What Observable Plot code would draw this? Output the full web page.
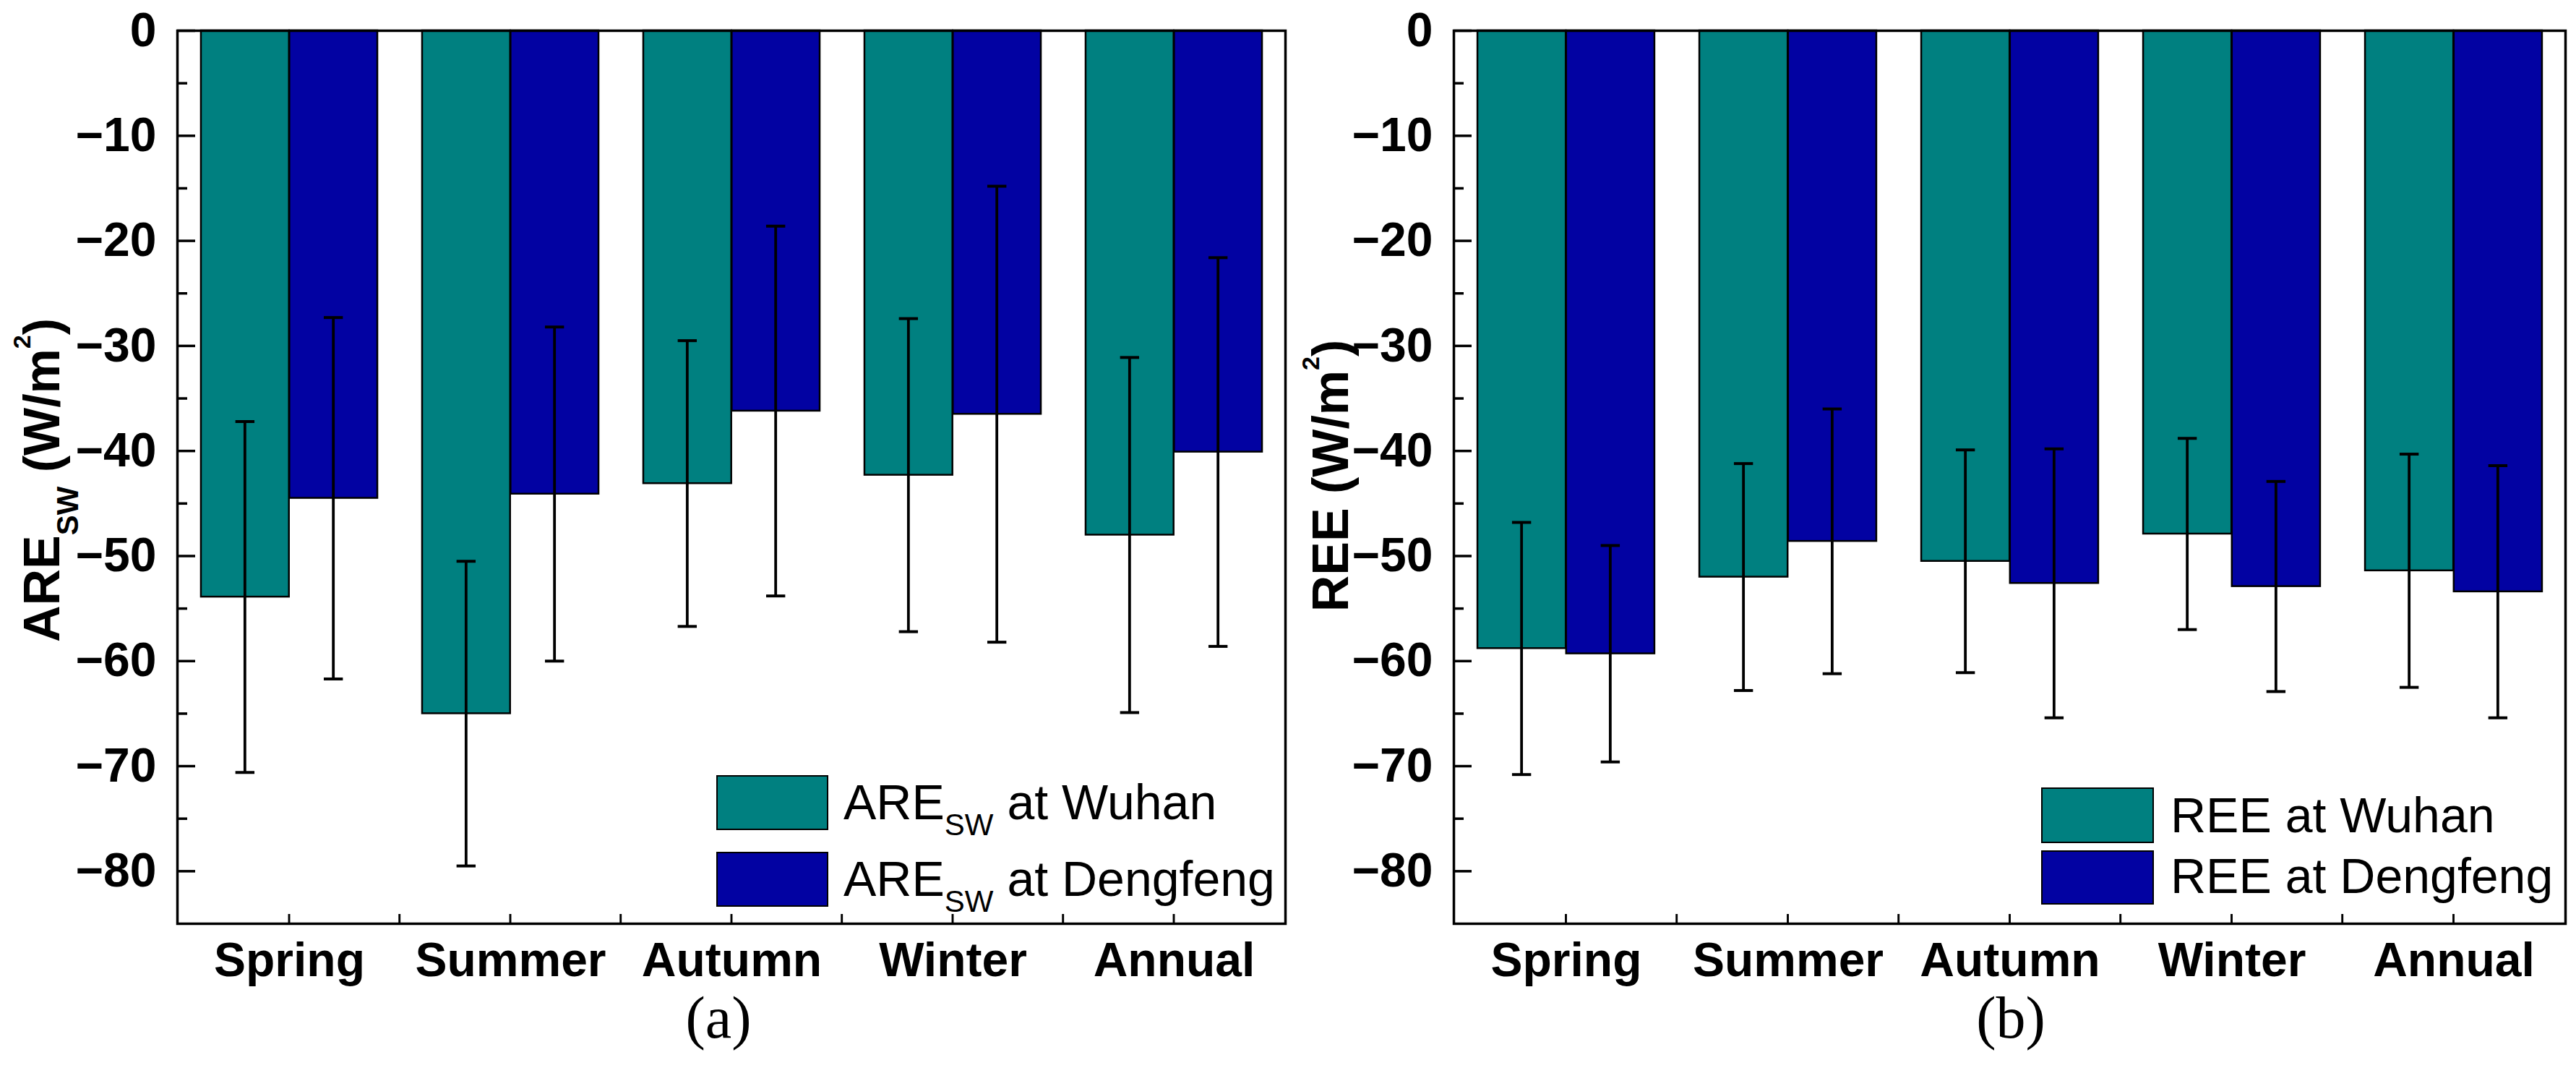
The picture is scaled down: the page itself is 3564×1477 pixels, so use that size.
<!DOCTYPE html>
<html><head><meta charset="utf-8">
<script src="https://cdn.jsdelivr.net/npm/d3@7"></script>
<script src="https://cdn.jsdelivr.net/npm/@observablehq/plot@0.6"></script>
<style>
html,body{margin:0;padding:0;background:#fff;}
#root{position:relative;width:3564px;height:1477px;overflow:hidden;background:#fff;font-family:"Liberation Sans",Arial,sans-serif;color:#000;}
.panel{position:absolute;top:0;}
.swatch{position:absolute;box-sizing:border-box;border:2.5px solid #000;}
.ltext{position:absolute;font-size:68px;line-height:68px;white-space:nowrap;color:#000;}
.ltext sub{font-size:42px;vertical-align:-22px;line-height:0;}
.caption{position:absolute;font-family:"Liberation Serif","Times New Roman",serif;font-size:82px;line-height:64px;text-align:center;width:300px;color:#000;}
</style></head><body><div id="root"></div>
<script>
// ---------- data ----------
const seasons = ["Spring", "Summer", "Autumn", "Winter", "Annual"];
// panel (a): ARE_SW (W/m2), mean and standard deviation
const areWuhanMean = [-53.9, -65.0, -43.1, -42.3, -48.0];
const areWuhanSd   = [16.7, 14.5, 13.6, 14.9, 16.9];
const areDengMean  = [-44.5, -44.1, -36.2, -36.5, -40.1];
const areDengSd    = [17.2, 15.9, 17.6, 21.7, 18.5];
// panel (b): REE (W/m2), mean and standard deviation
const reeWuhanMean = [-58.8, -52.0, -50.5, -47.9, -51.4];
const reeWuhanSd   = [12.0, 10.8, 10.6, 9.1, 11.1];
const reeDengMean  = [-59.3, -48.6, -52.6, -52.9, -53.4];
const reeDengSd    = [10.3, 12.6, 12.8, 10.0, 12.0];
// axis ticks
const yMajorTicks = [0, -10, -20, -30, -40, -50, -60, -70, -80];
const yMinorTicks = [-5, -15, -25, -35, -45, -55, -65, -75];
const yDomain = [-85, 0];

const teal = "#008080";
const navy = "#0202A2";

function rowsFor(means, sds, site) {
  return seasons.map((s, i) => ({season: s, site, mean: means[i], sd: sds[i]}));
}

function makePanel(cfg) {
  const {width, height, marginLeft, marginRight, marginTop, marginBottom, series} = cfg;
  const plotW = width - marginLeft - marginRight;
  const step = plotW / seasons.length;
  const pad = 0.101 * step;
  const bw = (step - 2 * pad) / 2;
  const yMin = yDomain[0];
  const marks = [];
  series.forEach((s, k) => {
    const left = pad + k * bw;
    marks.push(Plot.barY(s.rows, {
      x: "season", y: "mean", fill: s.color, stroke: "#000", strokeWidth: 2.5,
      insetLeft: left, insetRight: step - left - bw
    }));
  });
  series.forEach((s, k) => {
    const c = pad + k * bw + bw / 2;
    marks.push(Plot.barY(s.rows, {
      x: "season", y1: d => d.mean - d.sd, y2: d => d.mean + d.sd, fill: "#000",
      insetLeft: c - 2.2, insetRight: step - c - 2.2
    }));
    for (const acc of [d => d.mean - d.sd, d => d.mean + d.sd]) {
      marks.push(Plot.tickY(s.rows, {
        x: "season", y: acc, stroke: "#000", strokeWidth: 4,
        insetLeft: c - 13.5, insetRight: step - c - 13.5
      }));
    }
  });
  // y ticks pointing inward
  marks.push(Plot.tickY(yMajorTicks, {y: d => d, stroke: "#000", strokeWidth: 3.5, insetRight: plotW - 25}));
  marks.push(Plot.tickY(yMinorTicks, {y: d => d, stroke: "#000", strokeWidth: 3.5, insetRight: plotW - 14}));
  // x ticks pointing inward: major at category centres, minor at boundaries
  marks.push(Plot.barY(seasons, {
    x: d => d, y1: () => yMin, y2: () => yMin, insetTop: -13, fill: "#000",
    insetLeft: step / 2 - 1.75, insetRight: step / 2 - 1.75
  }));
  marks.push(Plot.barY(seasons.slice(1), {
    x: d => d, y1: () => yMin, y2: () => yMin, insetTop: -13, fill: "#000",
    insetLeft: -1.75, insetRight: step - 1.75
  }));
  marks.push(Plot.frame({stroke: "#000", strokeWidth: 3.5}));
  marks.push(Plot.axisY({ticks: yMajorTicks, tickSize: 0, tickPadding: 29, fontSize: 66, fontWeight: "bold", label: null}));
  marks.push(Plot.axisX({tickSize: 0, tickPadding: 26, fontSize: 66, fontWeight: "bold", label: null}));

  const svg = Plot.plot({
    width, height, marginLeft, marginRight, marginTop, marginBottom,
    x: {type: "band", domain: seasons, padding: 0},
    y: {domain: yDomain},
    style: {fontFamily: "Liberation Sans, Arial, sans-serif", fontSize: "66px", fontWeight: "bold", color: "#000", background: "#fff", overflow: "visible"},
    marks
  });

  // y axis title with sub/superscripts
  const t = d3.select(svg).append("text")
    .attr("transform", `translate(${cfg.labelX},${cfg.labelY}) rotate(-90)`)
    .attr("text-anchor", "middle")
    .attr("font-family", "Liberation Sans, Arial, sans-serif")
    .attr("font-weight", "bold")
    .attr("font-size", 70)
    .attr("fill", "#000")
    .style("white-space", "pre");
  cfg.labelParts.forEach(p => {
    t.append("tspan").attr("font-size", p.size).attr("dy", p.dy).text(p.text);
  });
  return svg;
}

const root = document.getElementById("root");

function addPanel(left, cfg, legend, caption) {
  const wrap = document.createElement("div");
  wrap.className = "panel";
  wrap.style.left = left + "px";
  wrap.style.width = cfg.width + "px";
  wrap.style.height = "1477px";
  wrap.appendChild(makePanel(cfg));
  legend.forEach(item => {
    const sw = document.createElement("div");
    sw.className = "swatch";
    Object.assign(sw.style, {left: item.sx + "px", top: item.sy + "px", width: item.sw + "px", height: item.sh + "px", background: item.color});
    wrap.appendChild(sw);
    const tx = document.createElement("div");
    tx.className = "ltext";
    Object.assign(tx.style, {left: item.tx + "px", top: item.ty + "px"});
    tx.innerHTML = item.html;
    wrap.appendChild(tx);
  });
  const cap = document.createElement("div");
  cap.className = "caption";
  cap.style.left = (caption.cx - 150) + "px";
  cap.style.top = caption.top + "px";
  cap.textContent = caption.text;
  wrap.appendChild(cap);
  root.appendChild(wrap);
}

// panel (a)
addPanel(0, {
  width: 1790, height: 1372, marginLeft: 245, marginRight: 12, marginTop: 42, marginBottom: 95,
  series: [
    {rows: rowsFor(areWuhanMean, areWuhanSd, "Wuhan"), color: teal},
    {rows: rowsFor(areDengMean, areDengSd, "Dengfeng"), color: navy}
  ],
  labelX: 82, labelY: 664,
  labelParts: [
    {text: "ARE", size: 70, dy: 0},
    {text: "SW", size: 42, dy: 26},
    {text: " (W/m", size: 70, dy: -26},
    {text: "2", size: 34, dy: -40},
    {text: ")", size: 70, dy: 40}
  ]
}, [
  {sx: 991, sy: 1072, sw: 155, sh: 76, color: teal, tx: 1167, ty: 1075, html: "ARE<sub>SW</sub> at Wuhan"},
  {sx: 991, sy: 1178, sw: 155, sh: 76, color: navy, tx: 1167, ty: 1181, html: "ARE<sub>SW</sub> at Dengfeng"}
], {text: "(a)", cx: 994, top: 1376});

// panel (b)
addPanel(1790, {
  width: 1774, height: 1372, marginLeft: 221, marginRight: 15, marginTop: 42, marginBottom: 95,
  series: [
    {rows: rowsFor(reeWuhanMean, reeWuhanSd, "Wuhan"), color: teal},
    {rows: rowsFor(reeDengMean, reeDengSd, "Dengfeng"), color: navy}
  ],
  labelX: 75, labelY: 658,
  labelParts: [
    {text: "REE (W/m", size: 70, dy: 0},
    {text: "2", size: 34, dy: -40},
    {text: ")", size: 70, dy: 40}
  ]
}, [
  {sx: 2824 - 1790, sy: 1089, sw: 156, sh: 77, color: teal, tx: 3003 - 1790, ty: 1093, html: "REE at Wuhan"},
  {sx: 2824 - 1790, sy: 1176, sw: 156, sh: 75, color: navy, tx: 3003 - 1790, ty: 1177, html: "REE at Dengfeng"}
], {text: "(b)", cx: 2782 - 1790, top: 1376});
</script></body></html>
